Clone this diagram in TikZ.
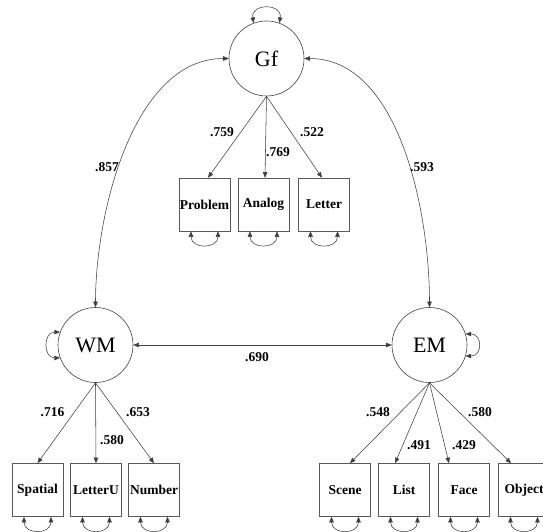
\documentclass[tikz,border=0pt]{standalone}
\usepackage{fontspec}
\setmainfont{Liberation Serif}
\usetikzlibrary{arrows.meta}
\begin{document}
\begin{tikzpicture}[x=1pt,y=-1pt,
  >={Triangle[length=5.5pt,width=4.5pt]},
  ln/.style={draw=black!75, line width=0.55pt},
  latent/.style={circle, draw=black!75, line width=0.6pt, minimum size=75pt,
    inner sep=0pt, font=\fontsize{22}{24}\selectfont},
  manifest/.style={rectangle, draw=black!65, line width=0.6pt,
    minimum width=51pt, minimum height=53pt, inner sep=0pt,
    font=\fontsize{13.5}{15}\selectfont\bfseries},
  load/.style={ln,->},
  cov/.style={ln,<->},
  coef/.style={font=\fontsize{13.5}{15}\selectfont\bfseries, inner sep=0pt},
  resid/.style={cov}
]
\useasboundingbox[fill=white] (0,0) rectangle (543,532);

% latent factors
\node[latent] (Gf) at (266.5,58.5) {Gf};
\node[latent] (WM) at (95.5,345) {WM};
\node[latent] (EM) at (429.5,345) {EM};

% Gf indicators
\node[manifest] (problem) at (204.5,204.5) {Problem};
\node[manifest] (analog)  at (263.5,204.5) {Analog};
\node[manifest] (letter)  at (324,204.5)   {Letter};

% WM indicators
\node[manifest] (spatial) at (37.5,490) {Spatial};
\node[manifest] (letteru) at (96,490)   {LetterU};
\node[manifest] (number)  at (154,490)  {Number};

% EM indicators
\node[manifest] (scene)  at (345,490) {Scene};
\node[manifest] (list)   at (404,490) {List};
\node[manifest] (face)   at (464,490) {Face};
\node[manifest] (object) at (524,490) {Object};

% factor loadings
\draw[load] (Gf.south) -- ([xshift=3.5pt]problem.north);
\draw[load] (Gf.south) -- ([xshift=1.5pt]analog.north);
\draw[load] (Gf.south) -- ([xshift=-2pt]letter.north);

\draw[load] (WM.south) -- (spatial.north);
\draw[load] (WM.south) -- (letteru.north);
\draw[load] (WM.south) -- (number.north);

\draw[load] (EM.south) -- ([xshift=5pt]scene.north);
\draw[load] (EM.south) -- ([xshift=-9pt]list.north);
\draw[load] (EM.south) -- ([xshift=-15pt]face.north);
\draw[load] (EM.south) -- ([xshift=-13pt]object.north);

% factor covariances
\draw[cov] (WM.north) .. controls +(0,-95) and +(-95,0) .. (Gf.west);
\draw[cov] (Gf.east) .. controls +(95,0) and +(0,-95) .. (EM.north);
\draw[cov] (WM.east) -- (EM.west);

% factor variances
\draw[resid] (Gf.110) .. controls +(-3,-20) and +(3,-20) .. (Gf.70);
\draw[resid] (WM.160) .. controls +(-17,0) and +(-17,0) .. (WM.200);
\draw[resid] (EM.17) .. controls +(17,0) and +(17,0) .. (EM.-17);

% residual variances
\foreach \b in {problem,analog,letter,spatial,letteru,number,scene,list,face,object}
  \draw[resid] ([xshift=-13.5pt]\b.south) .. controls +(0,18) and +(0,18) .. ([xshift=13.5pt]\b.south);

% coefficients
\node[coef] (c759) at (222,132) {.759};
\node[coef] (c769) at (278,152) {.769};
\node[coef] (c522) at (312,132) {.522};
\node[coef] (c857) at (107,167) {.857};
\node[coef] (c593) at (422,167) {.593};
\node[coef] (c690) at (257,357) {.690};
\node[coef] (c716) at (52.5,412) {.716};
\node[coef] (c580a) at (112,440) {.580};
\node[coef] (c653) at (138,412) {.653};
\node[coef] (c548) at (378,412) {.548};
\node[coef] (c491) at (419,445) {.491};
\node[coef] (c429) at (464,445) {.429};
\node[coef] (c580b) at (480,412) {.580};
\end{tikzpicture}
\end{document}
